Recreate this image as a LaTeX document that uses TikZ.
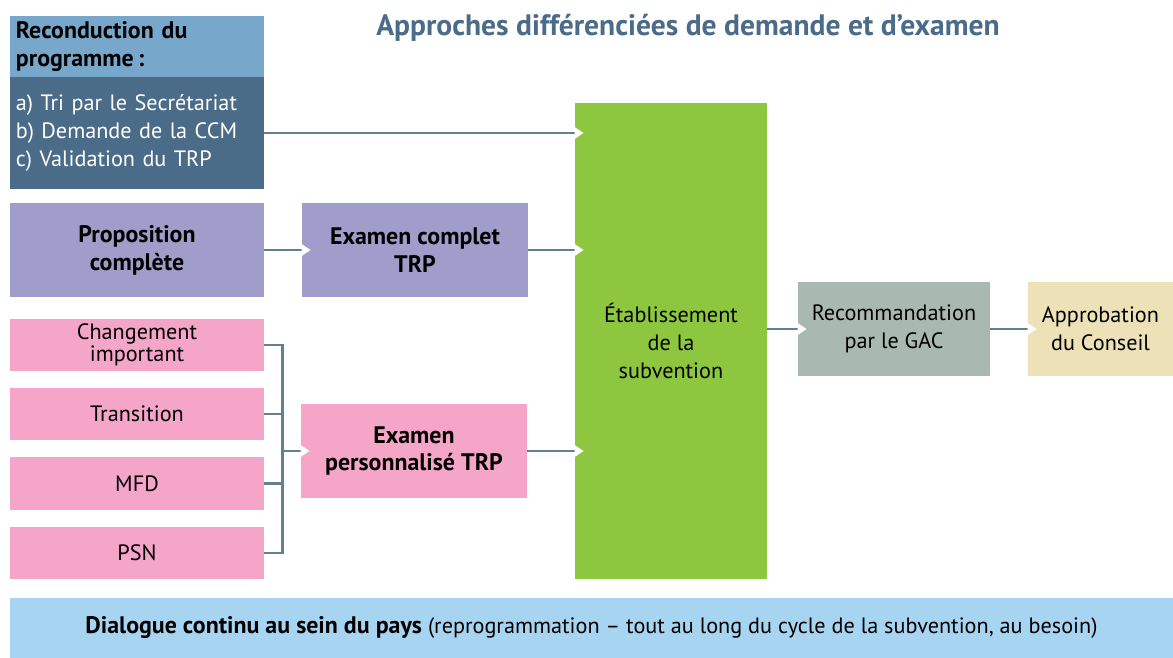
\documentclass[tikz,border=0pt]{standalone}
\usepackage{fontspec}
\setmainfont{PT Sans}
\usetikzlibrary{arrows.meta,calc}

\definecolor{bleuclair}{HTML}{78A7CC}
\definecolor{bleufonce}{HTML}{4A6C89}
\definecolor{lavande}{HTML}{A19DCB}
\definecolor{rose}{HTML}{F4A5C8}
\definecolor{vert}{HTML}{8DC63F}
\definecolor{grisvert}{HTML}{A9B9B2}
\definecolor{beige}{HTML}{EDE2B7}
\definecolor{ciel}{HTML}{A7D5F1}
\definecolor{trait}{HTML}{62808F}
\definecolor{titrebleu}{HTML}{4A6B8A}

\tikzset{
  boite/.style={rectangle, inner sep=0pt, align=center, font=\fontsize{15.8}{19.8}\selectfont},
  gras/.style={boite, font=\fontsize{17}{19.8}\selectfont\bfseries},
  barre/.style={draw=trait, line width=2pt},
  lien/.style={barre, -{Triangle[length=6.4pt, width=8pt, color=white]}, shorten >=-6.4pt}
}

\begin{document}
\begin{tikzpicture}[x=0.025cm, y=-0.025cm]
			%%%%% START %%%%%
			
			\fill[white] (0, 0) rectangle (1173, 658);
			\useasboundingbox (0, 0) rectangle (1173, 658);
			
			\node[text=titrebleu, font=\fontsize{21}{24}\selectfont\bfseries] (titre) at (688, 28) {Approches différenciées de demande et d’examen};
			
			\node[boite, fill=bleuclair, align=left, inner xsep=0.15cm, text width=6.05cm, minimum height=1.525cm, font=\fontsize{17}{20.5}\selectfont\bfseries] (tete) at (137, 46.5) {Reconduction du\\programme\,:};
			\node[boite, fill=bleufonce, text=white, align=left, inner xsep=0.15cm, text width=6.05cm, minimum height=2.8cm] (recon) at (137, 133) {a) Tri par le Secrétariat\\b) Demande de la CCM\\c) Validation du TRP};
			
			\node[gras, fill=lavande, minimum width=6.35cm, minimum height=2.35cm] (prop) at (137, 250) {Proposition\\complète};
			\node[gras, fill=lavande, minimum width=5.65cm, minimum height=2.35cm] (excomp) at (415, 250) {Examen complet\\TRP};
			
			\node[boite, fill=rose, minimum width=6.35cm, minimum height=1.3cm, font=\fontsize{15.8}{14}\selectfont] (chg) at (137, 345) {Changement\\important};
			\node[boite, fill=rose, minimum width=6.35cm, minimum height=1.3cm] (trans) at (137, 414) {Transition};
			\node[boite, fill=rose, minimum width=6.35cm, minimum height=1.3cm] (mfd) at (137, 483.5) {MFD};
			\node[boite, fill=rose, minimum width=6.35cm, minimum height=1.3cm] (psn) at (137, 553) {PSN};
			\node[gras, fill=rose, minimum width=5.65cm, minimum height=2.35cm] (pers) at (414, 451) {Examen\\personnalisé TRP};
			
			\node[boite, fill=vert, minimum width=4.8cm, minimum height=11.9cm] (sub) at (671, 341) {Établissement\\de la\\subvention};
			\node[boite, fill=grisvert, minimum width=4.8cm, minimum height=2.35cm] (reco) at (894, 329) {Recommandation\\par le GAC};
			\node[boite, fill=beige, minimum width=3.625cm, minimum height=2.35cm] (appro) at (1100.5, 329) {Approbation\\du Conseil};
			
			\node[boite, fill=ciel, minimum width=29.075cm, minimum height=1.5cm] (dial) at (591.5, 628) {\textbf{\fontsize{17}{19.8}\selectfont Dialogue continu au sein du pays} (reprogrammation -- tout au long du cycle de la subvention, au besoin)};
			
			\draw[lien] (recon.east) -- (recon.east -| sub.west);
			\draw[lien] (prop.east) -- (excomp.west);
			\draw[lien] (excomp.east) -- (excomp.east -| sub.west);
			
			\coordinate (bus) at ($(chg.east)!0.5!(pers.west)$);
			\draw[barre] (chg.east) -| (bus |- psn.east) -- (psn.east);
			\draw[barre] (trans.east) -- (trans.east -| bus);
			\draw[barre] (mfd.east) -- (mfd.east -| bus);
			\draw[lien] (pers.west -| bus) -- (pers.west);
			\draw[lien] (pers.east) -- (pers.east -| sub.west);
			
			\draw[lien] (sub.east |- reco.west) -- (reco.west);
			\draw[lien] (reco.east) -- (appro.west);
			
			%%%%% END %%%%%
		\end{tikzpicture}
\end{document}
